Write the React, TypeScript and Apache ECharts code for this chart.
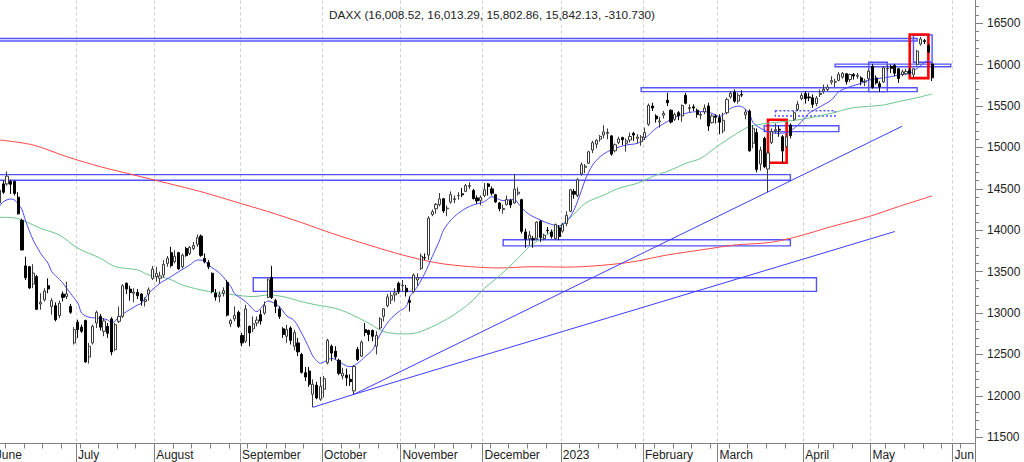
import React, { useEffect, useRef } from "react";
import * as echarts from "echarts";

// ---------- categories: trading days ----------
const TRADING_DAYS: [string, number[]][] = [
  ["2022-06", [1, 2, 3, 6, 7, 8, 9, 10, 13, 14, 15, 16, 17, 20, 21, 22, 23, 24, 27, 28, 29, 30]],
  ["2022-07", [1, 4, 5, 6, 7, 8, 11, 12, 13, 14, 15, 18, 19, 20, 21, 22, 25, 26, 27, 28, 29]],
  ["2022-08", [1, 2, 3, 4, 5, 8, 9, 10, 11, 12, 15, 16, 17, 18, 19, 22, 23, 24, 25, 26, 29, 30, 31]],
  ["2022-09", [1, 2, 5, 6, 7, 8, 9, 12, 13, 14, 15, 16, 19, 20, 21, 22, 23, 26, 27, 28, 29, 30]],
  ["2022-10", [3, 4, 5, 6, 7, 10, 11, 12, 13, 14, 17, 18, 19, 20, 21, 24, 25, 26, 27, 28, 31]],
  ["2022-11", [1, 2, 3, 4, 7, 8, 9, 10, 11, 14, 15, 16, 17, 18, 21, 22, 23, 24, 25, 28, 29, 30]],
  ["2022-12", [1, 2, 5, 6, 7, 8, 9, 12, 13, 14, 15, 16, 19, 20, 21, 22, 23, 27, 28, 29, 30]],
  ["2023-01", [2, 3, 4, 5, 6, 9, 10, 11, 12, 13, 16, 17, 18, 19, 20, 23, 24, 25, 26, 27, 30, 31]],
  ["2023-02", [1, 2, 3, 6, 7, 8, 9, 10, 13, 14, 15, 16, 17, 20, 21, 22, 23, 24, 27, 28]],
  ["2023-03", [1, 2, 3, 6, 7, 8, 9, 10, 13, 14, 15, 16, 17, 20, 21, 22, 23, 24, 27, 28, 29, 30, 31]],
  ["2023-04", [3, 4, 5, 6, 11, 12, 13, 14, 17, 18, 19, 20, 21, 24, 25, 26, 27, 28]],
  ["2023-05", [2, 3, 4, 5, 8, 9, 10, 11, 12, 15, 16, 17, 18, 19, 22, 23, 24, 25, 26, 29, 30, 31]],
  ["2023-06", [1, 2, 5, 6, 7, 8]],
];
const CATEGORIES: string[] = TRADING_DAYS.flatMap(([m, days]) =>
  days.map((d) => `${m}-${String(d).padStart(2, "0")}`)
);

const MONTH_LABELS: Record<string, string> = {
  "2022-06": "June", "2022-07": "July", "2022-08": "August", "2022-09": "September",
  "2022-10": "October", "2022-11": "November", "2022-12": "December", "2023-01": "2023",
  "2023-02": "February", "2023-03": "March", "2023-04": "April", "2023-05": "May", "2023-06": "Jun",
};

const TITLE = "DAXX (16,008.52, 16,013.29, 15,802.86, 15,842.13, -310.730)";

// ---------- OHLC: [open, high, low, close] ----------
const JUN_2022 = [
  [14400, 14520, 14290, 14340], [14330, 14500, 14280, 14485], [14560, 14600, 14440, 14460],
  [14560, 14710, 14540, 14653], [14590, 14610, 14440, 14556], [14590, 14600, 14420, 14445],
  [14400, 14460, 14190, 14199], [14120, 14140, 13760, 13762], [13570, 13680, 13400, 13427],
  [13560, 13570, 13290, 13304], [13350, 13590, 13300, 13483], [13440, 13460, 13040, 13045],
  [13110, 13240, 13040, 13130], [13160, 13300, 13140, 13265], [13330, 13420, 13240, 13292],
  [13080, 13180, 12980, 13150], [13090, 13130, 12900, 12920], [12970, 13150, 12940, 13120],
  [13230, 13260, 13140, 13190], [13200, 13380, 13170, 13231], [13080, 13110, 12990, 13010],
  [12640, 12830, 12620, 12800],
];
const JUL_2022 = [
  [12890, 12920, 12700, 12800], [12830, 12860, 12760, 12780], [12910, 12920, 12400, 12410],
  [12470, 12640, 12390, 12600], [12640, 12860, 12620, 12840], [12880, 13030, 12820, 13010],
  [12960, 12990, 12790, 12830], [12780, 12940, 12720, 12905], [12840, 12880, 12700, 12756],
  [12930, 12950, 12490, 12530], [12560, 12880, 12540, 12860], [12900, 13080, 12880, 12960],
  [12960, 13350, 12940, 13330], [13360, 13370, 13230, 13290], [13290, 13330, 13150, 13250],
  [13240, 13300, 13130, 13254], [13250, 13290, 13170, 13210], [13230, 13240, 13090, 13150],
  [13140, 13190, 13080, 13166], [13230, 13310, 13150, 13282], [13420, 13570, 13400, 13530],
];
const AUG_2022 = [
  [13440, 13560, 13380, 13479], [13420, 13500, 13360, 13449], [13460, 13640, 13430, 13587],
  [13600, 13690, 13560, 13662], [13730, 13800, 13550, 13573], [13620, 13760, 13600, 13687],
  [13730, 13740, 13520, 13535], [13560, 13720, 13540, 13700], [13780, 13800, 13680, 13694],
  [13720, 13810, 13700, 13795], [13780, 13860, 13760, 13816], [13830, 13950, 13800, 13910],
  [13930, 13950, 13680, 13697], [13660, 13720, 13600, 13620], [13610, 13640, 13530, 13560],
  [13480, 13490, 13240, 13260], [13240, 13290, 13150, 13194], [13200, 13260, 13130, 13220],
  [13240, 13310, 13200, 13271], [13370, 13400, 12960, 12975], [12870, 12930, 12830, 12910],
  [12930, 13080, 12900, 12970], [13010, 13030, 12820, 12840],
];
const SEP_2022 = [
  [12730, 12760, 12600, 12640], [12660, 13100, 12640, 13050], [12840, 12850, 12600, 12761],
  [12810, 12960, 12770, 12871], [12880, 12960, 12840, 12916], [12980, 13040, 12860, 12904],
  [13000, 13140, 12980, 13088], [13190, 13420, 13180, 13402], [13430, 13570, 13170, 13189],
  [13150, 13170, 13000, 13080], [13050, 13080, 12930, 12960], [12810, 12830, 12700, 12741],
  [12720, 12860, 12640, 12803], [12820, 12840, 12620, 12671], [12600, 12800, 12550, 12767],
  [12640, 12700, 12480, 12532], [12500, 12520, 12270, 12284], [12280, 12350, 12180, 12228],
  [12300, 12350, 12110, 12140], [12020, 12200, 11862, 12140], [12130, 12170, 11960, 11976],
  [11960, 12230, 11940, 12114],
];
const OCT_2022 = [
  [12080, 12240, 11980, 12209], [12400, 12690, 12380, 12670], [12600, 12620, 12420, 12517],
  [12540, 12600, 12440, 12471], [12430, 12450, 12250, 12273], [12240, 12340, 12200, 12272],
  [12250, 12330, 12120, 12220], [12200, 12260, 12120, 12172], [12060, 12370, 12019, 12355],
  [12560, 12590, 12420, 12438], [12480, 12670, 12470, 12649], [12800, 12880, 12720, 12765],
  [12790, 12800, 12660, 12741], [12790, 12800, 12660, 12720], [12600, 12780, 12500, 12731],
  [12820, 12950, 12800, 12931], [12960, 13060, 12900, 13053], [13090, 13230, 13070, 13195],
  [13160, 13250, 13110, 13211], [13220, 13300, 13140, 13243], [13360, 13380, 13230, 13254],
];
const NOV_2022 = [
  [13330, 13400, 13260, 13338], [13300, 13340, 13200, 13256], [13150, 13200, 13020, 13130],
  [13260, 13480, 13240, 13460], [13400, 13480, 13330, 13429], [13540, 13720, 13520, 13688],
  [13670, 13720, 13640, 13666], [13700, 14170, 13640, 14146], [14190, 14250, 14170, 14224],
  [14260, 14330, 14200, 14313], [14310, 14450, 14290, 14379], [14380, 14390, 14210, 14234],
  [14260, 14300, 14170, 14267], [14340, 14470, 14320, 14431], [14370, 14420, 14330, 14380],
  [14420, 14460, 14370, 14422], [14440, 14510, 14400, 14428], [14470, 14560, 14460, 14540],
  [14530, 14580, 14500, 14541], [14480, 14500, 14370, 14383], [14390, 14420, 14320, 14355],
  [14360, 14420, 14300, 14397],
];
const DEC_2022 = [
  [14420, 14570, 14400, 14490], [14560, 14570, 14420, 14529], [14500, 14530, 14420, 14447],
  [14430, 14440, 14330, 14343], [14330, 14340, 14230, 14261], [14250, 14310, 14200, 14264],
  [14310, 14420, 14300, 14371], [14360, 14380, 14270, 14306], [14330, 14680, 14320, 14497],
  [14440, 14520, 14420, 14460], [14370, 14380, 13960, 13987], [13980, 14020, 13790, 13894],
  [13900, 13990, 13820, 13942], [13900, 13930, 13790, 13885], [13900, 14110, 13890, 14098],
  [14110, 14120, 13860, 13914], [13900, 13960, 13880, 13941], [14000, 14040, 13960, 13995],
  [13980, 14010, 13900, 13926], [13900, 14080, 13890, 14071], [14030, 14060, 13880, 13924],
];
const JAN_2023 = [
  [13990, 14090, 13970, 14069], [14080, 14230, 14050, 14181], [14230, 14500, 14220, 14490],
  [14470, 14500, 14380, 14436], [14420, 14630, 14400, 14610], [14680, 14820, 14660, 14792],
  [14760, 14800, 14690, 14774], [14810, 14960, 14800, 14948], [14970, 15080, 14930, 15058],
  [15040, 15100, 14990, 15087], [15100, 15150, 15070, 15134], [15150, 15270, 15110, 15187],
  [15170, 15230, 15100, 15181], [15140, 15150, 14900, 14920], [14960, 15050, 14940, 15033],
  [15060, 15130, 15040, 15103], [15120, 15130, 15030, 15094], [15050, 15110, 14950, 15081],
  [15090, 15180, 15060, 15133], [15170, 15190, 15080, 15150], [15110, 15160, 15050, 15126],
  [15070, 15150, 15020, 15128],
];
const FEB_2023 = [
  [15120, 15240, 15090, 15181], [15280, 15530, 15260, 15509], [15500, 15540, 15440, 15476],
  [15380, 15400, 15300, 15345], [15310, 15370, 15240, 15320], [15390, 15440, 15350, 15412],
  [15570, 15660, 15500, 15540], [15450, 15460, 15290, 15308], [15340, 15420, 15320, 15397],
  [15420, 15440, 15330, 15380], [15380, 15520, 15310, 15507], [15630, 15660, 15520, 15534],
  [15470, 15520, 15420, 15482], [15490, 15520, 15440, 15477], [15450, 15470, 15360, 15398],
  [15390, 15430, 15340, 15400], [15430, 15520, 15400, 15475], [15500, 15540, 15200, 15260],
  [15300, 15400, 15290, 15381], [15380, 15400, 15290, 15365],
];
const MAR_2023 = [
  [15360, 15400, 15160, 15305], [15200, 15420, 15170, 15328], [15420, 15600, 15400, 15578],
  [15610, 15680, 15590, 15654], [15670, 15700, 15540, 15559], [15560, 15660, 15530, 15631],
  [15640, 15690, 15610, 15633], [15395, 15460, 15340, 15428], [15440, 15460, 14950, 14959],
  [15050, 15270, 14990, 15232], [15180, 15230, 14700, 14735], [14800, 15010, 14720, 14967],
  [15110, 15130, 14750, 14768], [14740, 14960, 14458, 14933], [15060, 15230, 15040, 15195],
  [15200, 15290, 15170, 15216], [15220, 15260, 15130, 15210], [15130, 15150, 14810, 14957],
  [15010, 15170, 14990, 15128], [15270, 15290, 15110, 15143], [15340, 15440, 15320, 15420],
  [15460, 15560, 15440, 15522], [15590, 15660, 15570, 15629],
];
const APR_2023 = [
  [15650, 15680, 15530, 15590], [15610, 15660, 15560, 15600], [15600, 15640, 15480, 15520],
  [15530, 15620, 15500, 15597], [15640, 15700, 15610, 15655], [15680, 15760, 15650, 15703],
  [15700, 15760, 15680, 15729], [15790, 15860, 15760, 15808], [15790, 15830, 15730, 15795],
  [15810, 15910, 15800, 15883], [15850, 15910, 15830, 15896], [15890, 15900, 15760, 15795],
  [15820, 15890, 15790, 15882], [15880, 15900, 15820, 15863], [15860, 15900, 15830, 15872],
  [15840, 15860, 15750, 15796], [15790, 15830, 15740, 15800], [15830, 15940, 15810, 15922],
];
const MAY_2023 = [
  [15980, 16010, 15710, 15727], [15840, 15870, 15760, 15780], [15770, 15800, 15670, 15734],
  [15790, 15980, 15780, 15961], [15950, 16000, 15920, 15955], [15980, 16000, 15900, 15956],
  [15990, 16010, 15860, 15897], [15950, 15960, 15780, 15834], [15880, 15940, 15860, 15914],
  [15890, 15950, 15880, 15917], [15930, 15960, 15880, 15897], [15880, 15960, 15840, 15950],
  [16000, 16180, 15990, 16163], [16250, 16335, 16230, 16310], [16290, 16310, 16250, 16280],
  [16230, 16250, 16140, 16152.86], [16008.52, 16013.29, 15802.86, 15842.13],
];
const CANDLES = [
  ...JUN_2022, ...JUL_2022, ...AUG_2022, ...SEP_2022, ...OCT_2022, ...NOV_2022,
  ...DEC_2022, ...JAN_2023, ...FEB_2023, ...MAR_2023, ...APR_2023, ...MAY_2023,
];

// ---------- moving averages: [trading-day number, value] ----------
const MA_FAST: [number, number][] = [
  [1, 14290], [2, 14345], [4, 14378], [5, 14365], [6, 14320], [7, 14250], [8, 14110], [10, 13883],
  [12, 13722], [14, 13601], [15, 13500], [17, 13408], [18, 13360], [20, 13239], [22, 13119],
  [23, 13000], [25, 12950], [28, 12937], [30, 12917], [31, 12880], [33, 12950], [35, 13017],
  [38, 13098], [39, 13118], [41, 13240], [44, 13360], [47, 13440], [49, 13500], [52, 13581],
  [54, 13641], [56, 13630], [57, 13580], [60, 13481], [63, 13319], [64, 13235], [67, 13138],
  [70, 13017], [71, 13058], [73, 13146], [76, 13078], [78, 12965], [80, 12909], [82, 12756],
  [84, 12575], [85, 12480], [87, 12394], [89, 12434], [90, 12454], [92, 12414], [94, 12362],
  [95, 12353], [97, 12394], [99, 12474], [101, 12555], [102, 12650], [104, 12817], [106, 12937],
  [108, 13017], [110, 13078], [111, 13199], [113, 13319], [115, 13481], [117, 13682], [119, 13883],
  [120, 14000], [122, 14125], [124, 14205], [126, 14266], [128, 14306], [131, 14346], [133, 14406],
  [136, 14358], [139, 14375], [140, 14326], [142, 14225], [144, 14165], [146, 14125], [148, 14085],
  [151, 14052], [153, 14104], [155, 14245], [157, 14480], [158, 14610], [160, 14789], [162, 14889],
  [164, 14950], [166, 14990], [169, 15030], [172, 15050], [174, 15110], [177, 15232], [180, 15312],
  [182, 15365], [185, 15413], [188, 15433], [190, 15433], [193, 15393], [194, 15373], [197, 15473],
  [199, 15500], [200, 15493], [202, 15413], [203, 15300], [205, 15232], [207, 15191], [209, 15171],
  [212, 15180], [214, 15232], [216, 15312], [218, 15413], [221, 15493], [224, 15574], [226, 15674],
  [229, 15734], [232, 15775], [234, 15815], [237, 15835], [240, 15855], [242, 15876], [245, 15896],
  [247, 15956], [250, 16045], [251, 16017],
];
const MA_MID: [number, number][] = [
  [1, 14157], [5, 14150], [8, 14105], [12, 14024], [17, 13943], [22, 13783], [28, 13662],
  [32, 13561], [38, 13521], [41, 13460], [46, 13420], [50, 13340], [55, 13279], [59, 13247],
  [64, 13219], [69, 13199], [73, 13219], [77, 13199], [82, 13138], [86, 13098], [91, 13058],
  [95, 12990], [100, 12877], [104, 12776], [109, 12748], [113, 12764], [118, 12857], [122, 12957],
  [127, 13118], [131, 13299], [135, 13450], [140, 13662], [143, 13802], [149, 13983], [154, 14150],
  [158, 14326], [163, 14426], [167, 14507], [172, 14568], [176, 14648], [181, 14728], [185, 14809],
  [189, 14869], [193, 15000], [198, 15151], [202, 15252], [207, 15292], [211, 15312], [216, 15340],
  [224, 15413], [229, 15473], [233, 15493], [238, 15513], [242, 15554], [247, 15602], [251, 15646],
];
const MA_SLOW: [number, number][] = [
  [1, 15091], [10, 15030], [19, 14889], [28, 14768], [37, 14668], [46, 14568], [55, 14466],
  [64, 14346], [73, 14225], [82, 14092], [90, 13964], [100, 13822], [109, 13702], [118, 13608],
  [127, 13561], [135, 13545], [144, 13560], [153, 13555], [162, 13575], [171, 13621], [180, 13702],
  [189, 13762], [198, 13822], [207, 13850], [213, 13903], [218, 13964], [224, 14044], [234, 14165],
  [242, 14286], [251, 14415],
];

// ---------- drawn zones and trend lines (dates, price levels) ----------
const ZONES = [
  { from: "2022-06-01", to: "2023-05-18", lo: 16285, hi: 16316, dashed: false },
  { from: "2023-04-17", to: "2023-05-31", lo: 15975, hi: 16007, dashed: false },
  { from: "2023-04-28", to: "2023-05-08", lo: 15674, hi: 16030, dashed: false },
  { from: "2023-05-17", to: "2023-05-24", lo: 16030, hi: 16358, dashed: false },
  { from: "2023-01-31", to: "2023-05-18", lo: 15674, hi: 15722, dashed: false },
  { from: "2023-03-22", to: "2023-04-17", lo: 15380, hi: 15443, dashed: true },
  { from: "2023-03-17", to: "2023-04-18", lo: 15192, hi: 15262, dashed: false },
  { from: "2022-06-01", to: "2023-03-28", lo: 14604, hi: 14672, dashed: false },
  { from: "2022-12-08", to: "2023-03-28", lo: 13812, hi: 13886, dashed: false },
  { from: "2022-09-06", to: "2023-04-06", lo: 13262, hi: 13427, dashed: false },
];
const HIGHLIGHTS = [
  { from: "2023-03-20", to: "2023-03-27", lo: 14815, hi: 15335 },
  { from: "2023-05-16", to: "2023-05-23", lo: 15838, hi: 16365 },
];
const TRENDLINES = [
  { from: "2022-09-28", v0: 11862, to: "2022-10-13", v1: 12019 },
  { from: "2022-10-13", v0: 12019, to: "2023-05-12", v1: 15257 },
  { from: "2022-10-13", v0: 12019, to: "2023-05-10", v1: 13985 },
];

const Y_MIN = 11425;
const Y_MAX = 16775;
const Y_STEP = 25;
const Y_LEVELS: string[] = [];
for (let v = Y_MIN; v <= Y_MAX; v += Y_STEP) Y_LEVELS.push(String(v));

const FONT = "'Liberation Sans', Arial, Helvetica, sans-serif";
const AXIS_GRAY = "#808080";
const BOX_BLUE = "#5252ff";
const LINE_BLUE = "#3d3dff";

const monthOf = (s: string) => s.slice(0, 7);
const isMonthStart = (i: number) => i === 0 || monthOf(CATEGORIES[i]) !== monthOf(CATEGORIES[i - 1]);
const dow = (s: string) => new Date(s + "T00:00:00Z").getUTCDay();
const isWeekStart = (i: number) => i > 0 && dow(CATEGORIES[i]) < dow(CATEGORIES[i - 1]);
const isMajorLevel = (_i: number, v: string) => Number(v) % 500 === 0;
const isMinorLevel = (_i: number, v: string) => Number(v) % 100 === 0 && Number(v) % 500 !== 0;

const toLine = (pts: [number, number][]) => pts.map(([i, v]) => [CATEGORIES[i], v]);

export default function App() {
  const ref = useRef<HTMLDivElement>(null);

  useEffect(() => {
    if (!ref.current) return;
    const chart = echarts.init(ref.current, undefined, { renderer: "svg" });

    const boxes: any[] = ZONES.map((z) => [
      {
        xAxis: z.from,
        yAxis: z.hi,
        itemStyle: {
          color: "rgba(0,0,0,0)",
          borderColor: BOX_BLUE,
          borderWidth: 1.4,
          borderType: z.dashed ? [2, 2] : "solid",
        },
      },
      { xAxis: z.to, yAxis: z.lo },
    ]);
    HIGHLIGHTS.forEach((h) =>
      boxes.push([
        {
          xAxis: h.from,
          yAxis: h.hi,
          itemStyle: { color: "rgba(0,0,0,0)", borderColor: "#ff0000", borderWidth: 2.6 },
        },
        { xAxis: h.to, yAxis: h.lo },
      ])
    );

    const option: any = {
      animation: false,
      backgroundColor: "#ffffff",
      title: {
        text: TITLE,
        left: 324,
        top: 4,
        textStyle: { fontSize: 11.8, fontWeight: "normal", color: "#222222", fontFamily: FONT },
      },
      grid: {
        left: -6,
        top: 0.5,
        width: 981,
        height: 443,
        containLabel: false,
        outerBoundsMode: "none",
      },
      xAxis: [
        {
          type: "category",
          data: CATEGORIES,
          boundaryGap: true,
          axisLine: { show: true, lineStyle: { color: AXIS_GRAY, width: 1 } },
          axisTick: { show: true, interval: isMonthStart, length: 20, lineStyle: { color: AXIS_GRAY } },
          axisLabel: {
            interval: isMonthStart,
            formatter: (v: string) => MONTH_LABELS[monthOf(v)] ?? "",
            align: "left",
            margin: 5,
            color: "#222222",
            fontSize: 12,
            fontFamily: FONT,
          },
          splitLine: {
            show: true,
            interval: isMonthStart,
            lineStyle: { color: "#cdcdcd", width: 1, type: [3, 3] },
          },
        },
        {
          type: "category",
          data: CATEGORIES,
          boundaryGap: true,
          position: "bottom",
          axisLine: { show: false },
          axisTick: { show: true, interval: isWeekStart, length: 5, lineStyle: { color: AXIS_GRAY } },
          axisLabel: { show: false },
          splitLine: { show: false },
        },
      ],
      yAxis: [
        {
          type: "value",
          min: Y_MIN,
          max: Y_MAX,
          position: "right",
          axisLine: { show: true, lineStyle: { color: AXIS_GRAY, width: 1 } },
          axisTick: { show: false },
          axisLabel: { show: false },
          splitLine: { show: false },
        },
        {
          type: "category",
          data: Y_LEVELS,
          boundaryGap: false,
          position: "right",
          axisLine: { show: false },
          axisTick: { show: true, interval: isMinorLevel, length: 4, lineStyle: { color: AXIS_GRAY } },
          axisLabel: { show: false },
          splitLine: { show: false },
        },
        {
          type: "category",
          data: Y_LEVELS,
          boundaryGap: false,
          position: "right",
          axisLine: { show: false },
          axisTick: { show: true, interval: isMajorLevel, length: 8, lineStyle: { color: AXIS_GRAY } },
          axisLabel: {
            interval: isMajorLevel,
            margin: 12,
            color: "#222222",
            fontSize: 12,
            fontFamily: FONT,
          },
          splitLine: { show: false },
        },
      ],
      series: [
        {
          name: "MA slow",
          type: "line",
          data: toLine(MA_SLOW),
          symbol: "none",
          smooth: 0.3,
          lineStyle: { color: "#ff4646", width: 1 },
          silent: true,
          z: 2,
        },
        {
          name: "MA mid",
          type: "line",
          data: toLine(MA_MID),
          symbol: "none",
          smooth: 0.3,
          lineStyle: { color: "#6cc48e", width: 1 },
          silent: true,
          z: 2,
        },
        {
          name: "MA fast",
          type: "line",
          data: toLine(MA_FAST),
          symbol: "none",
          smooth: 0.3,
          lineStyle: { color: "#4a4aff", width: 1 },
          silent: true,
          z: 2,
        },
        {
          name: "DAXX",
          type: "candlestick",
          data: CANDLES.map(([o, h, l, c]) => [o, c, l, h]),
          barWidth: "70%",
          silent: true,
          z: 3,
          itemStyle: {
            color: "#ffffff",
            color0: "#000000",
            borderColor: "#3a3a3a",
            borderColor0: "#000000",
            borderWidth: 1,
          },
          markArea: { silent: true, label: { show: false }, data: boxes },
          markLine: {
            silent: true,
            symbol: ["none", "none"],
            label: { show: false },
            lineStyle: { color: LINE_BLUE, width: 1, type: "solid" },
            data: TRENDLINES.map((t) => [
              { coord: [t.from, t.v0] },
              { coord: [t.to, t.v1] },
            ]),
          },
        },
      ],
    };

    chart.setOption(option);
    return () => chart.dispose();
  }, []);

  return (
    <div
      ref={ref}
      style={{ position: "absolute", left: 0, top: 0, width: 1024, height: 462, background: "#fff" }}
    />
  );
}
